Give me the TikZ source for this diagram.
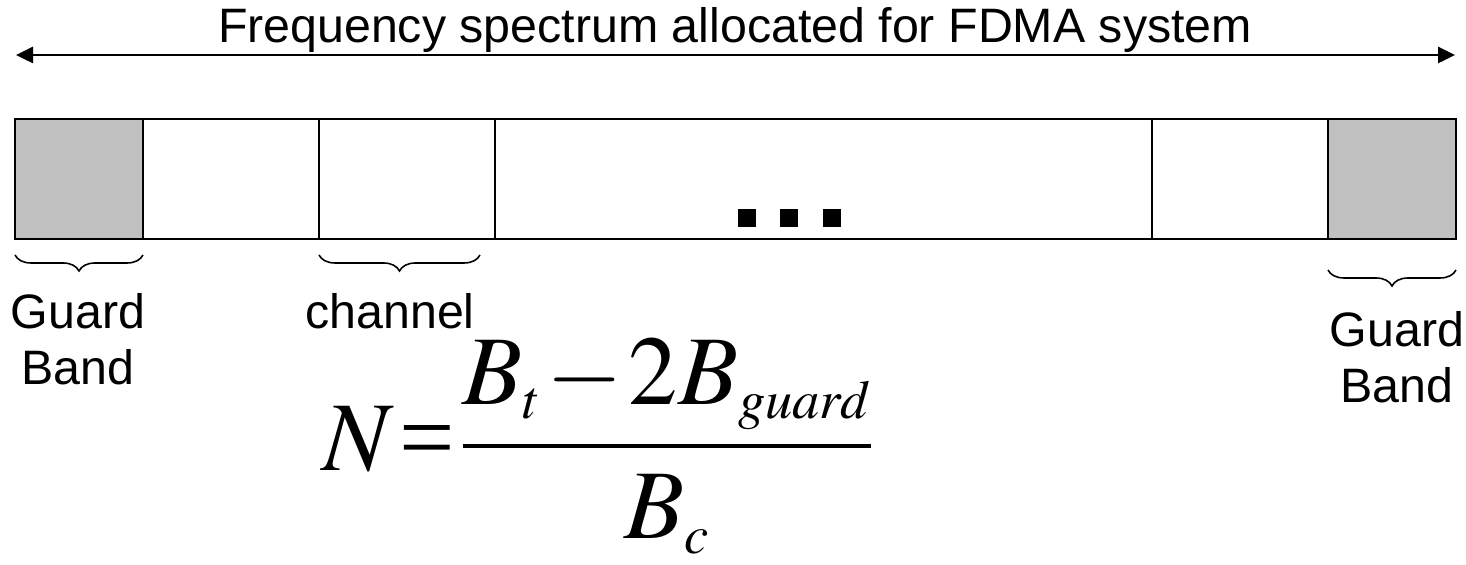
\documentclass[tikz,border=0pt]{standalone}
\usepackage{mathptmx}
\usepackage[no-math]{fontspec}
\setmainfont{Liberation Sans}
\newfontfamily\eqfont{Liberation Serif}
\usetikzlibrary{arrows.meta, positioning, decorations.pathreplacing}
\definecolor{guardgray}{RGB}{192, 192, 192}
\DeclareMathSizes{56}{56}{31}{24}

\begin{document}
\begin{tikzpicture}[
    font=\fontsize{27.5}{31.7}\selectfont,
    cell/.style={rectangle, draw=black, fill=white, line width=1.1pt, minimum height=2.4cm, outer sep=0pt, inner sep=0pt},
    guard/.style={cell, fill=guardgray},
    dot/.style={rectangle, fill=black, minimum size=0.36cm, inner sep=0pt},
    lbl/.style={align=center, inner sep=0pt},
    bracket/.style={decorate, decoration={brace, mirror, amplitude=0.32cm}, line width=0.9pt}
]
    \useasboundingbox (0,0) rectangle (29.32,11.3);

    % Spectrum arrow and caption
    \coordinate (fl) at (0.32,10.2);
    \coordinate (fr) at (29.1,10.2);
    \draw [line width=1.5pt, {Triangle[length=0.34cm, width=0.32cm]}-{Triangle[length=0.34cm, width=0.32cm]}] (fl) -- (fr);
    \node (title) [anchor=base] at (14.7,10.44) {Frequency spectrum allocated for FDMA system};

    % Channel strip
    \node (g1) [guard, minimum width=2.56cm, anchor=south west] at (0.3,6.52) {};
    \node (c1) [cell, minimum width=3.52cm, right=0cm of g1] {};
    \node (c2) [cell, minimum width=3.52cm, right=0cm of c1] {};
    \node (mid) [cell, minimum width=13.14cm, right=0cm of c2] {};
    \node (c3) [cell, minimum width=3.52cm, right=0cm of mid] {};
    \node (g2) [guard, minimum width=2.56cm, right=0cm of c3] {};

    \foreach \x [count=\i] in {14.94,15.78,16.64}
        \node (dot\i) [dot] at (\x,6.94) {};

    % Braces
    \draw [bracket] ([yshift=-0.32cm]g1.south west) -- ([yshift=-0.32cm]g1.south east);
    \draw [bracket] ([yshift=-0.32cm]c2.south west) -- ([yshift=-0.32cm, xshift=-0.3cm]c2.south east);
    \draw [bracket] ([yshift=-0.62cm]g2.south west) -- ([yshift=-0.62cm]g2.south east);

    % Labels
    \node (gl) [lbl, anchor=north] at (1.56,5.44) {Guard\\Band};
    \node (ch) [lbl, anchor=north] at (7.8,5.44) {channel};
    \node (gr) [lbl, anchor=north] at (27.94,5.08) {Guard\\Band};

    % Number of channels
    \node (eq) [inner sep=0pt, anchor=south west] at (6.45,0.22) {\fontsize{56}{66}\selectfont
        \thickmuskip=1mu \medmuskip=1mu
        $\displaystyle N \mathrel{\mbox{\eqfont =}} \frac{B_t - 2B_{guard}}{B_c}$};
\end{tikzpicture}
\end{document}
